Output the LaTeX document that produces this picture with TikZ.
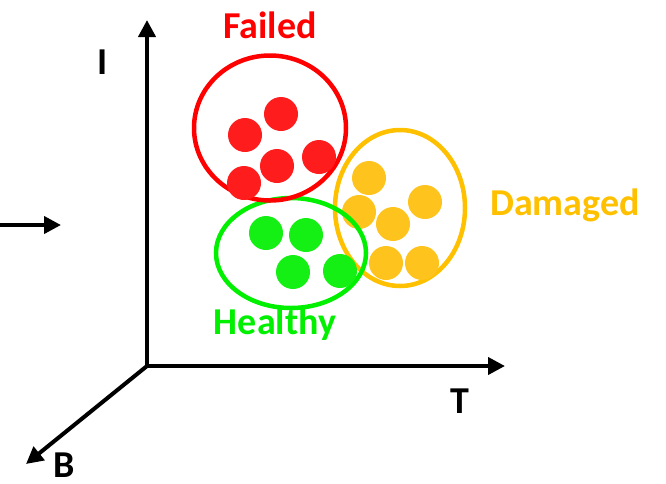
\documentclass[tikz,border=0pt]{standalone}
\usepackage{fontspec}
\setmainfont{Carlito}
\usetikzlibrary{arrows.meta,shapes.geometric}
\definecolor{cred}{RGB}{255,0,0}
\definecolor{cdotred}{RGB}{255,28,28}
\definecolor{cyel}{RGB}{255,192,0}
\definecolor{cdotyel}{RGB}{255,195,30}
\definecolor{cgreen}{RGB}{0,240,0}
\definecolor{cdotgreen}{RGB}{20,240,20}
\tikzset{
  axis/.style={line width=4pt,-{Triangle[length=17pt,width=17pt]}},
  lbl/.style={font=\fontsize{38}{40}\selectfont\bfseries,inner sep=0pt},
  dot/.style={circle,minimum size=34pt,inner sep=0pt},
  group/.style={ellipse,line width=4.5pt,inner sep=0pt}
}
\begin{document}
\begin{tikzpicture}[x=1pt,y=-1pt]
\useasboundingbox (0,0) rectangle (666,483);
% axes
\coordinate (o) at (147,366);
\coordinate (itip) at (147,20);
\coordinate (ttip) at (505,366);
\coordinate (btip) at (26,464);
\coordinate (la) at (0,225);
\coordinate (lb) at (61,225);
\draw[axis] (o) -- (itip);
\draw[axis] (o) -- (ttip);
\draw[axis] (o) -- (btip);
\draw[axis] (la) -- (lb);
\node[lbl] (il) at (103,62) {I};
\node[lbl] (tl) at (460,401) {T};
\node[lbl] (bl) at (64,465) {B};
% damaged group
\node[group,draw=cyel,minimum width=130pt,minimum height=156pt] (dam) at (400,208) {};
\foreach \n/\p in {d1/{(369,178)},d2/{(425,202)},d3/{(359,212)},d4/{(393,224)},d5/{(386,263)},d6/{(422,263)}}
  \node[dot,fill=cdotyel] (\n) at \p {};
\node[lbl,text=cyel] (daml) at (565,205) {Damaged};
% healthy group
\node[group,draw=cgreen,minimum width=150pt,minimum height=110pt] (hea) at (291,253) {};
\foreach \n/\p in {h1/{(266,233)},h2/{(306,235)},h3/{(293,272)},h4/{(340,271)}}
  \node[dot,fill=cdotgreen] (\n) at \p {};
\node[lbl,text=cgreen] (heal) at (275,324) {Healthy};
% failed group
\node[group,draw=cred,minimum width=152pt,minimum height=145pt] (fai) at (270,128) {};
\foreach \n/\p in {f1/{(281,114)},f2/{(245,135)},f3/{(319,157)},f4/{(277,166)},f5/{(244,183)}}
  \node[dot,fill=cdotred] (\n) at \p {};
\node[lbl,text=cred] (fail) at (270,25) {Failed};
\end{tikzpicture}
\end{document}
